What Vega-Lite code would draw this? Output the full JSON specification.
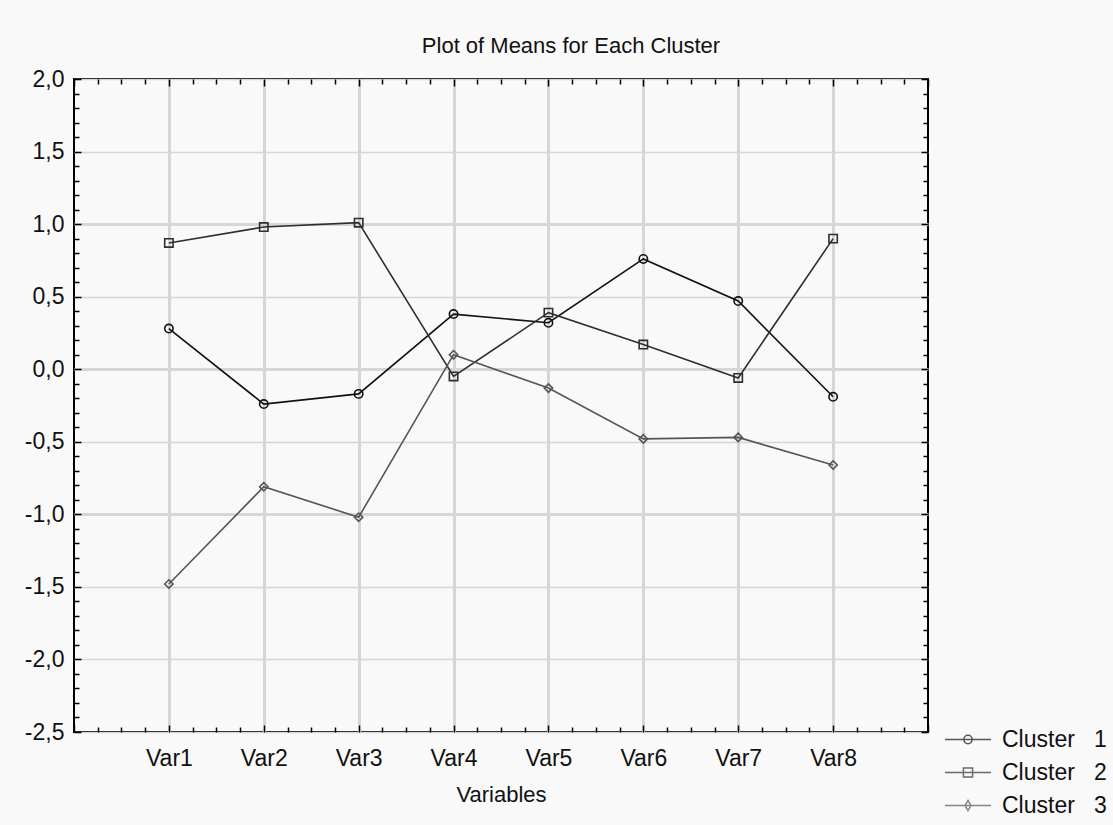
{
  "$schema": "https://vega.github.io/schema/vega-lite/v6.json",
  "autosize": {"type": "none"},
  "width": 854,
  "height": 653,
  "padding": {"left": 74, "top": 79, "right": 185, "bottom": 93},
  "background": "#f9f9f9",
  "config": {
    "view": {"stroke": "#000000", "strokeWidth": 2, "fill": "#ffffff"},
    "font": "Liberation Sans"
  },
  "title": {
    "text": "Plot of Means for Each Cluster",
    "font": "Liberation Sans",
    "fontSize": 22,
    "fontWeight": "normal",
    "color": "#111111",
    "offset": 10,
    "dx": 70
  },
  "data": {
    "values": [
      {"var": 1, "cluster": "Cluster 1", "mean": 0.28},
      {"var": 2, "cluster": "Cluster 1", "mean": -0.24},
      {"var": 3, "cluster": "Cluster 1", "mean": -0.17},
      {"var": 4, "cluster": "Cluster 1", "mean": 0.38},
      {"var": 5, "cluster": "Cluster 1", "mean": 0.32},
      {"var": 6, "cluster": "Cluster 1", "mean": 0.76},
      {"var": 7, "cluster": "Cluster 1", "mean": 0.47},
      {"var": 8, "cluster": "Cluster 1", "mean": -0.19},
      {"var": 1, "cluster": "Cluster 2", "mean": 0.87},
      {"var": 2, "cluster": "Cluster 2", "mean": 0.98},
      {"var": 3, "cluster": "Cluster 2", "mean": 1.01},
      {"var": 4, "cluster": "Cluster 2", "mean": -0.05},
      {"var": 5, "cluster": "Cluster 2", "mean": 0.39},
      {"var": 6, "cluster": "Cluster 2", "mean": 0.17},
      {"var": 7, "cluster": "Cluster 2", "mean": -0.06},
      {"var": 8, "cluster": "Cluster 2", "mean": 0.9},
      {"var": 1, "cluster": "Cluster 3", "mean": -1.48},
      {"var": 2, "cluster": "Cluster 3", "mean": -0.81},
      {"var": 3, "cluster": "Cluster 3", "mean": -1.02},
      {"var": 4, "cluster": "Cluster 3", "mean": 0.1},
      {"var": 5, "cluster": "Cluster 3", "mean": -0.13},
      {"var": 6, "cluster": "Cluster 3", "mean": -0.48},
      {"var": 7, "cluster": "Cluster 3", "mean": -0.47},
      {"var": 8, "cluster": "Cluster 3", "mean": -0.66}
    ]
  },
  "resolve": {
    "scale": {"shape": "independent", "color": "independent"},
    "axis": {"x": "independent", "y": "independent"}
  },
  "layer": [
    {
      "mark": {"type": "line", "strokeWidth": 1.6},
      "encoding": {
        "x": {
          "field": "var", "type": "quantitative",
          "scale": {"domain": [0, 9], "nice": false, "zero": false},
          "axis": {
            "orient": "bottom",
            "title": "Variables",
            "titleFont": "Liberation Sans",
            "titleFontSize": 22,
            "titleFontWeight": "normal",
            "titleColor": "#111111",
            "titlePadding": 12,
            "values": [0,0.25,0.5,0.75,1,1.25,1.5,1.75,2,2.25,2.5,2.75,3,3.25,3.5,3.75,4,4.25,4.5,4.75,5,5.25,5.5,5.75,6,6.25,6.5,6.75,7,7.25,7.5,7.75,8,8.25,8.5,8.75,9],
            "labelExpr": "(datum.value >= 0.5 && datum.value <= 8.5 && abs(datum.value - round(datum.value)) < 0.001) ? 'Var' + round(datum.value) : ''",
            "labelOverlap": false,
            "labelFlush": false,
            "labelBound": false,
            "labelFont": "Liberation Sans",
            "labelFontSize": 23,
            "labelColor": "#111111",
            "labelPadding": 22,
            "domain": false,
            "ticks": true,
            "tickColor": "#000000",
            "tickWidth": 1.5,
            "tickSize": {"condition": {"test": "abs(datum.value - round(datum.value)) < 0.001", "value": -7}, "value": -5},
            "grid": true,
            "gridColor": "#d6d6d6",
            "gridWidth": 3,
            "gridOpacity": {"condition": {"test": "abs(datum.value - round(datum.value)) > 0.001 || datum.value < 0.5 || datum.value > 8.5", "value": 0}, "value": 1}
          }
        },
        "y": {
          "field": "mean", "type": "quantitative",
          "scale": {"domain": [-2.5, 2.0], "nice": false, "zero": false},
          "axis": {
            "orient": "left",
            "title": null,
            "values": [-2.5,-2.4,-2.3,-2.2,-2.1,-2,-1.9,-1.8,-1.7,-1.6,-1.5,-1.4,-1.3,-1.2,-1.1,-1,-0.9,-0.8,-0.7,-0.6,-0.5,-0.4,-0.3,-0.2,-0.1,0,0.1,0.2,0.3,0.4,0.5,0.6,0.7,0.8,0.9,1,1.1,1.2,1.3,1.4,1.5,1.6,1.7,1.8,1.9,2],
            "labelExpr": "abs(datum.value*2 - round(datum.value*2)) < 0.001 ? ((datum.value < -0.001 ? '-' : '') + replace(format(abs(datum.value), '.1f'), '.', ',')) : ''",
            "labelOverlap": false,
            "labelFlush": false,
            "labelBound": false,
            "labelFont": "Liberation Sans",
            "labelFontSize": 23,
            "labelColor": "#111111",
            "labelPadding": 17,
            "domain": false,
            "tickColor": "#000000",
            "tickWidth": 1.5,
            "tickSize": {"condition": {"test": "abs(datum.value*2 - round(datum.value*2)) < 0.001", "value": -7}, "value": -5},
            "grid": true,
            "gridColor": "#d6d6d6",
            "gridWidth": {"condition": {"test": "abs(datum.value - round(datum.value)) < 0.001 && abs(datum.value) < 1.5", "value": 3}, "value": 1.5},
            "gridOpacity": {"condition": {"test": "abs(datum.value*2 - round(datum.value*2)) > 0.001", "value": 0}, "value": 1}
          }
        },
        "color": {
          "field": "cluster", "type": "nominal",
          "scale": {"domain": ["Cluster 1", "Cluster 2", "Cluster 3"], "range": ["#111111", "#2e2e2e", "#555555"]},
          "legend": null
        }
      }
    },
    {
      "mark": {"type": "point", "filled": false, "strokeWidth": 1.6, "size": 70, "opacity": 1},
      "encoding": {
        "x": {
          "field": "var", "type": "quantitative",
          "scale": {"domain": [0, 9], "nice": false, "zero": false},
          "axis": {
            "orient": "top",
            "title": null,
            "values": [0,0.25,0.5,0.75,1,1.25,1.5,1.75,2,2.25,2.5,2.75,3,3.25,3.5,3.75,4,4.25,4.5,4.75,5,5.25,5.5,5.75,6,6.25,6.5,6.75,7,7.25,7.5,7.75,8,8.25,8.5,8.75,9],
            "labels": false,
            "domain": false,
            "grid": false,
            "tickColor": "#000000",
            "tickWidth": 1.5,
            "tickSize": {"condition": {"test": "abs(datum.value - round(datum.value)) < 0.001", "value": -7}, "value": -5}
          }
        },
        "y": {
          "field": "mean", "type": "quantitative",
          "scale": {"domain": [-2.5, 2.0], "nice": false, "zero": false},
          "axis": {
            "orient": "right",
            "title": null,
            "values": [-2.5,-2.4,-2.3,-2.2,-2.1,-2,-1.9,-1.8,-1.7,-1.6,-1.5,-1.4,-1.3,-1.2,-1.1,-1,-0.9,-0.8,-0.7,-0.6,-0.5,-0.4,-0.3,-0.2,-0.1,0,0.1,0.2,0.3,0.4,0.5,0.6,0.7,0.8,0.9,1,1.1,1.2,1.3,1.4,1.5,1.6,1.7,1.8,1.9,2],
            "labels": false,
            "domain": false,
            "grid": false,
            "tickColor": "#000000",
            "tickWidth": 1.5,
            "tickSize": {"condition": {"test": "abs(datum.value*2 - round(datum.value*2)) < 0.001", "value": -7}, "value": -5}
          }
        },
        "color": {
          "field": "cluster", "type": "nominal",
          "scale": {"domain": ["Cluster 1", "Cluster 2", "Cluster 3"], "range": ["#111111", "#2e2e2e", "#555555"]},
          "legend": null
        },
        "shape": {
          "field": "cluster", "type": "nominal",
          "scale": {"domain": ["Cluster 1", "Cluster 2", "Cluster 3"], "range": ["circle", "square", "diamond"]},
          "legend": null
        }
      }
    },
    {
      "transform": [{"filter": "datum.mean > 100"}],
      "mark": {"type": "point", "filled": false, "strokeWidth": 1.5},
      "encoding": {
        "color": {
          "field": "cluster", "type": "nominal",
          "scale": {"domain": ["Cluster 1", "Cluster 2", "Cluster 3"], "range": ["#111111", "#2e2e2e", "#555555"]},
          "legend": {
            "orient": "none", "legendX": 870, "legendY": 644, "padding": 0,
            "title": null, "symbolSize": 2116, "clipHeight": 33, "rowPadding": 0,
            "labelOffset": 10, "labelFont": "Liberation Sans", "labelFontSize": 23,
            "labelColor": "#111111", "labelLimit": 300,
            "symbolStrokeWidth": 1.5, "symbolFillColor": "transparent",
            "labelExpr": "replace(datum.label, ' ', '\u00a0\u00a0\u00a0')"
          }
        },
        "shape": {
          "field": "cluster", "type": "nominal",
          "scale": {
            "domain": ["Cluster 1", "Cluster 2", "Cluster 3"],
            "range": [
              "M-1,0H1M-0.18,0A0.18,0.18,0,1,1,0.18,0A0.18,0.18,0,1,1,-0.18,0Z",
              "M-1,0H1M-0.2,-0.2H0.2V0.2H-0.2Z",
              "M-1,0H1M0,-0.22L0.13,0L0,0.22L-0.13,0Z"
            ]
          },
          "legend": {
            "orient": "none", "legendX": 870, "legendY": 644, "padding": 0,
            "title": null, "symbolSize": 2116, "clipHeight": 33, "rowPadding": 0,
            "labelOffset": 10, "labelFont": "Liberation Sans", "labelFontSize": 23,
            "labelColor": "#111111", "labelLimit": 300,
            "symbolStrokeWidth": 1.5, "symbolFillColor": "transparent",
            "labelExpr": "replace(datum.label, ' ', '\u00a0\u00a0\u00a0')"
          }
        }
      }
    }
  ]
}
